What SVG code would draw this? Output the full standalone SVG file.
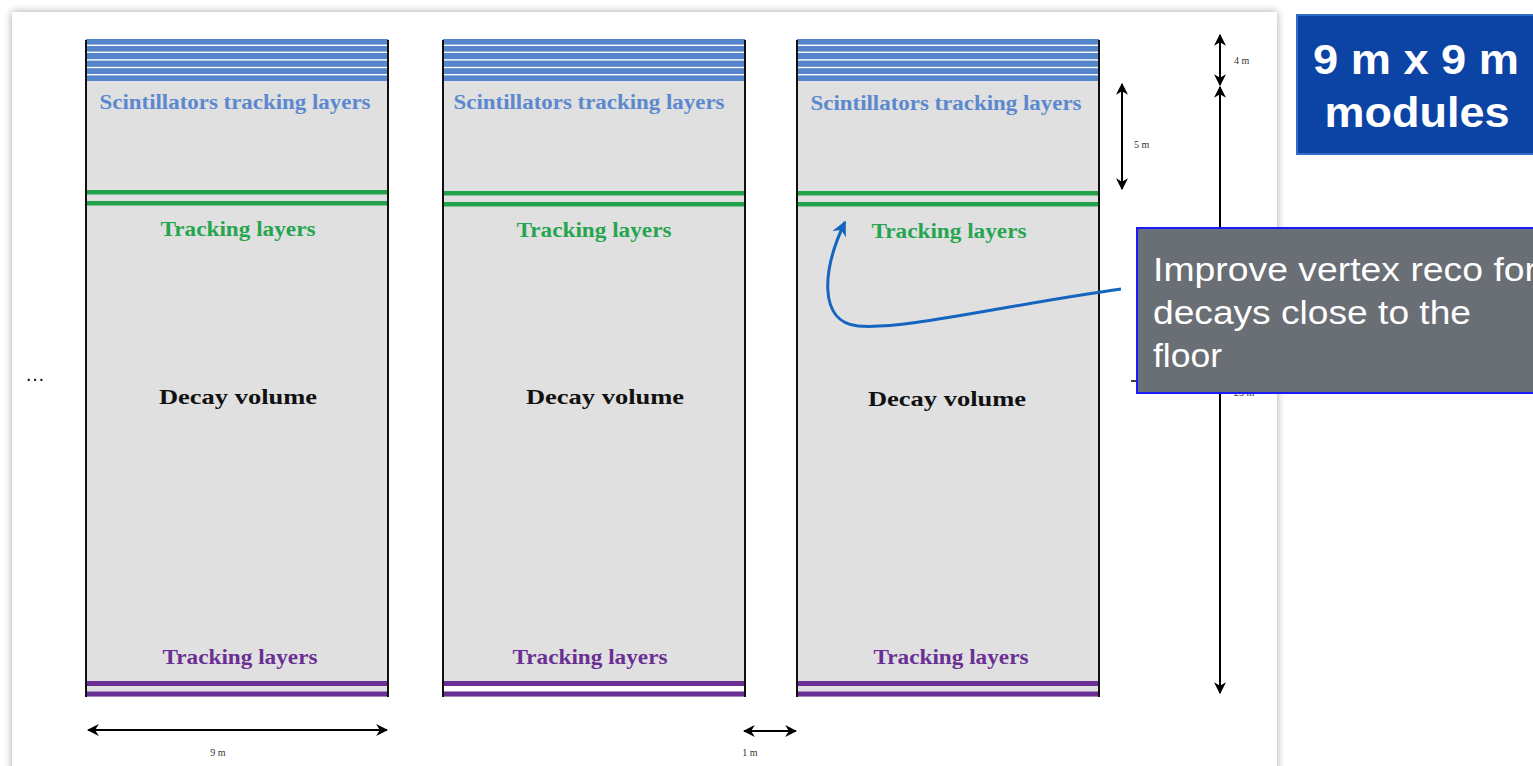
<svg xmlns="http://www.w3.org/2000/svg" width="1533" height="766" viewBox="0 0 1533 766">
<defs>
<filter id="sh" x="-5%" y="-5%" width="110%" height="110%"><feGaussianBlur in="SourceAlpha" stdDeviation="4"/><feOffset dx="0" dy="0"/><feComponentTransfer><feFuncA type="linear" slope="0.35"/></feComponentTransfer><feMerge><feMergeNode/><feMergeNode in="SourceGraphic"/></feMerge></filter>
<marker id="ah" viewBox="0 0 10 10" refX="9" refY="5" markerWidth="6" markerHeight="6" orient="auto-start-reverse"><path d="M0,0 L10,5 L0,10 L3,5 Z" fill="#000"/></marker>
<marker id="ab" viewBox="0 0 10 10" refX="9" refY="5" markerWidth="5" markerHeight="5" orient="auto"><path d="M0,0 L10,5 L0,10 L3,5 Z" fill="#1565c0"/></marker>
</defs>
<style>
.mod{fill:#e0e0e0;stroke:none}
.side{stroke:#111;stroke-width:2}
.sc{fill:#5585cc}
.gr{fill:#22a24a}
.pu{fill:#6a2f94}
.t{font-family:"Liberation Serif",serif;font-weight:bold;text-anchor:middle}
.ts{font-size:20px;fill:#5b88cf}
.tg{font-size:20px;fill:#26a550}
.tp{font-size:20px;fill:#6a2f94}
.td{font-size:22px;fill:#111}
.dim{stroke:#000;stroke-width:2;fill:none}
.dl{font-family:"Liberation Serif",serif;font-size:10px;fill:#333}
</style>
<rect width="1533" height="766" fill="#fff"/>
<rect x="12" y="12" width="1265" height="770" fill="#fff" filter="url(#sh)"/>

<g id="module1">
<rect class="mod" x="86" y="40" width="302" height="657"/>
<rect class="sc" x="86" y="39" width="302" height="42"/>
<g fill="#fff"><rect x="86" y="44.6" width="302" height="1.4"/><rect x="86" y="51.6" width="302" height="1.4"/><rect x="86" y="59.2" width="302" height="1.4"/><rect x="86" y="66.8" width="302" height="1.4"/><rect x="86" y="74" width="302" height="1.4"/></g>
<rect class="gr" x="86" y="190" width="302" height="4.5"/><rect class="gr" x="86" y="201" width="302" height="4.5"/>
<rect class="pu" x="86" y="681" width="302" height="5"/><rect class="pu" x="86" y="691.5" width="302" height="5"/>
<line class="side" x1="86" y1="40" x2="86" y2="697"/><line class="side" x1="388" y1="40" x2="388" y2="697"/>
<text class="t ts" x="235" y="109" textLength="271" lengthAdjust="spacingAndGlyphs">Scintillators tracking layers</text>
<text class="t tg" x="238" y="236" textLength="155" lengthAdjust="spacingAndGlyphs">Tracking layers</text>
<text class="t td" x="238" y="404" textLength="158" lengthAdjust="spacingAndGlyphs">Decay volume</text>
<text class="t tp" x="240" y="664" textLength="155" lengthAdjust="spacingAndGlyphs">Tracking layers</text>
</g>

<g id="module2">
<rect class="mod" x="443" y="40" width="302" height="657"/>
<rect class="sc" x="443" y="39" width="302" height="42"/>
<g fill="#fff"><rect x="443" y="44.6" width="302" height="1.4"/><rect x="443" y="51.6" width="302" height="1.4"/><rect x="443" y="59.2" width="302" height="1.4"/><rect x="443" y="66.8" width="302" height="1.4"/><rect x="443" y="74" width="302" height="1.4"/></g>
<rect class="gr" x="443" y="191" width="302" height="4.5"/><rect class="gr" x="443" y="202" width="302" height="4.5"/>
<rect class="pu" x="443" y="681" width="302" height="5"/><rect fill="#fff" x="443" y="686" width="302" height="5.5"/><rect class="pu" x="443" y="691.5" width="302" height="5"/>
<line class="side" x1="443" y1="40" x2="443" y2="697"/><line class="side" x1="745" y1="40" x2="745" y2="697"/>
<text class="t ts" x="589" y="109" textLength="271" lengthAdjust="spacingAndGlyphs">Scintillators tracking layers</text>
<text class="t tg" x="594" y="237" textLength="155" lengthAdjust="spacingAndGlyphs">Tracking layers</text>
<text class="t td" x="605" y="404" textLength="158" lengthAdjust="spacingAndGlyphs">Decay volume</text>
<text class="t tp" x="590" y="664" textLength="155" lengthAdjust="spacingAndGlyphs">Tracking layers</text>
</g>

<g id="module3">
<rect class="mod" x="797" y="40" width="302" height="657"/>
<rect class="sc" x="797" y="39" width="302" height="42"/>
<g fill="#fff"><rect x="797" y="44.6" width="302" height="1.4"/><rect x="797" y="51.6" width="302" height="1.4"/><rect x="797" y="59.2" width="302" height="1.4"/><rect x="797" y="66.8" width="302" height="1.4"/><rect x="797" y="74" width="302" height="1.4"/></g>
<rect class="gr" x="797" y="191" width="302" height="4.5"/><rect class="gr" x="797" y="202" width="302" height="4.5"/>
<rect class="pu" x="797" y="681" width="302" height="5"/><rect class="pu" x="797" y="691.5" width="302" height="5"/>
<line class="side" x1="797" y1="40" x2="797" y2="697"/><line class="side" x1="1099" y1="40" x2="1099" y2="697"/>
<text class="t ts" x="946" y="110" textLength="271" lengthAdjust="spacingAndGlyphs">Scintillators tracking layers</text>
<text class="t tg" x="949" y="238" textLength="155" lengthAdjust="spacingAndGlyphs">Tracking layers</text>
<text class="t td" x="947" y="406" textLength="158" lengthAdjust="spacingAndGlyphs">Decay volume</text>
<text class="t tp" x="951" y="664" textLength="155" lengthAdjust="spacingAndGlyphs">Tracking layers</text>
</g>

<g id="ellipsis"><text x="35" y="381" font-family="Liberation Sans,sans-serif" font-size="20" fill="#111" text-anchor="middle" textLength="22" lengthAdjust="spacing">…</text></g>

<g id="connectors">
<line class="dim" x1="1220" y1="35" x2="1220" y2="85" marker-start="url(#ah)" marker-end="url(#ah)"/>
<line class="dim" x1="1220" y1="87" x2="1220" y2="693" marker-start="url(#ah)" marker-end="url(#ah)"/>
<line class="dim" x1="1122" y1="84" x2="1122" y2="189" marker-start="url(#ah)" marker-end="url(#ah)"/>
<line class="dim" x1="88" y1="730" x2="387" y2="730" marker-start="url(#ah)" marker-end="url(#ah)"/>
<line class="dim" x1="744" y1="731" x2="796" y2="731" marker-start="url(#ah)" marker-end="url(#ah)"/>
<line x1="1131" y1="381" x2="1140" y2="381" stroke="#000" stroke-width="1.5"/>
<path d="M1121,289 C1000,306 905,330 858,326 C818,322 822,270 845,222" fill="none" stroke="#1565c0" stroke-width="3" marker-end="url(#ab)"/>
</g>

<g id="dim-labels">
<text class="dl" x="1234" y="64">4 m</text>
<text class="dl" x="1134" y="148">5 m</text>
<text class="dl" x="1234" y="396">25 m</text>
<text class="dl" x="218" y="756" text-anchor="middle">9 m</text>
<text class="dl" x="750" y="756" text-anchor="middle">1 m</text>
</g>

<g id="callout">
<rect x="1137" y="228" width="410" height="165" fill="#6a6e75" stroke="#1a1aff" stroke-width="2"/>
<text font-family="Liberation Sans,Arial,sans-serif" font-size="34" fill="#fff"><tspan x="1153" y="281" textLength="384" lengthAdjust="spacingAndGlyphs">Improve vertex reco for</tspan></text>
<text font-family="Liberation Sans,Arial,sans-serif" font-size="34" fill="#fff"><tspan x="1153" y="324" textLength="318" lengthAdjust="spacingAndGlyphs">decays close to the</tspan></text>
<text font-family="Liberation Sans,Arial,sans-serif" font-size="34" fill="#fff"><tspan x="1153" y="367" textLength="69" lengthAdjust="spacingAndGlyphs">floor</tspan></text>
</g>

<g id="title">
<rect x="1297" y="15" width="245" height="139" fill="#0b44a4" stroke="#2f6ec9" stroke-width="2"/>
<text font-family="Liberation Sans,Arial,sans-serif" font-weight="bold" font-size="42" fill="#fff" text-anchor="middle" x="1416" y="74" textLength="206" lengthAdjust="spacingAndGlyphs">9 m x 9 m</text>
<text font-family="Liberation Sans,Arial,sans-serif" font-weight="bold" font-size="42" fill="#fff" text-anchor="middle" x="1417" y="127" textLength="185" lengthAdjust="spacingAndGlyphs">modules</text>
</g>
</svg>
